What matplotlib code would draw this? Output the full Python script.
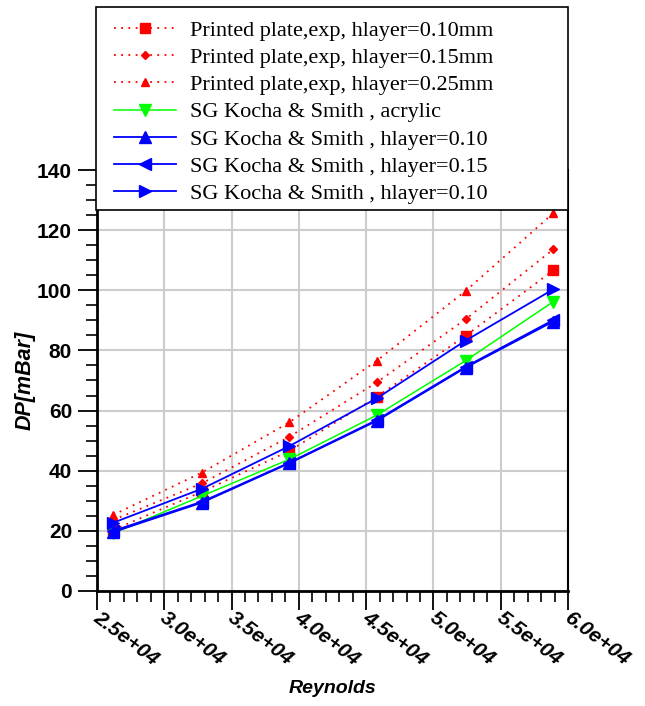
import matplotlib.pyplot as plt
import matplotlib.transforms as mtransforms
from matplotlib.patches import Rectangle
from matplotlib.ticker import MultipleLocator, FormatStrFormatter

# Reynolds numbers of the measurement / simulation points
reynolds = [26200, 32800, 39300, 45800, 52400, 58900]

# pressure drop [mBar]
exp_010 = [20.3, 33.0, 46.6, 64.6, 84.9, 106.6]
exp_015 = [23.6, 35.8, 51.3, 69.4, 90.4, 113.6]
exp_025 = [25.3, 39.4, 56.1, 76.6, 99.8, 125.6]
sg_acrylic = [19.2, 31.6, 43.8, 58.5, 76.6, 96.2]
sg_010_a = [19.6, 29.4, 42.5, 56.6, 74.3, 89.6]
sg_015 = [20.0, 29.7, 42.7, 56.9, 74.6, 90.1]
sg_010_b = [22.7, 34.0, 48.2, 64.1, 83.3, 100.3]

labels = ['Printed plate,exp, hlayer=0.10mm',
          'Printed plate,exp, hlayer=0.15mm',
          'Printed plate,exp, hlayer=0.25mm',
          'SG Kocha & Smith , acrylic',
          'SG Kocha & Smith , hlayer=0.10',
          'SG Kocha & Smith , hlayer=0.15',
          'SG Kocha & Smith , hlayer=0.10']

plt.rcParams['font.family'] = 'Liberation Sans'

fig = plt.figure(figsize=(6.45, 7.06), dpi=100)
ax = fig.add_axes([0.1504, 0.1629, 0.7302, 0.5963])

dot = (0, (1, 3))
red = '#ff0000'
blue = '#0000ff'
green = '#00ff00'

h1, = ax.plot(reynolds, exp_010, color=red, ls=dot, lw=1.3, marker='s', ms=7, label=labels[0])
h2, = ax.plot(reynolds, exp_015, color=red, ls=dot, lw=1.3, marker='D', ms=4.5, label=labels[1])
h3, = ax.plot(reynolds, exp_025, color=red, ls=dot, lw=1.3, marker='^', ms=6, label=labels[2])
h4, = ax.plot(reynolds, sg_acrylic, color=green, lw=1.1, marker='v', ms=8, label=labels[3])
h5, = ax.plot(reynolds, sg_010_a, color=blue, lw=1.3, marker='^', ms=8.5, label=labels[4])
h6, = ax.plot(reynolds, sg_015, color=blue, lw=1.3, marker='<', ms=8.5, label=labels[5])
h7, = ax.plot(reynolds, sg_010_b, color=blue, lw=1.3, marker='>', ms=8.5, label=labels[6])

ax.set_xlim(25000, 60000)
ax.set_ylim(0, 140)
ax.xaxis.set_major_locator(MultipleLocator(5000))
ax.xaxis.set_minor_locator(MultipleLocator(1000))
ax.yaxis.set_major_locator(MultipleLocator(20))
ax.yaxis.set_minor_locator(MultipleLocator(5))
ax.xaxis.set_major_formatter(FormatStrFormatter('%.1e'))

ax.grid(True, which='major', color='#cccccc', lw=1.5)
ax.set_axisbelow(True)

ax.tick_params(which='major', length=14, width=1.3, direction='out')
ax.tick_params(which='minor', length=8, width=1.2, direction='out')
ax.tick_params(axis='y', labelsize=15, pad=4)
ax.tick_params(axis='x', labelsize=15, pad=-2)

shift = mtransforms.ScaledTranslation(4 / 100, 0, fig.dpi_scale_trans)
for t in ax.get_yticklabels():
    t.set_fontweight('bold')
for t in ax.get_xticklabels():
    t.set_fontweight('bold')
    t.set_fontstyle('italic')
    t.set_rotation(-37)
    t.set_ha('left')
    t.set_va('top')
    t.set_rotation_mode('anchor')
    t.set_transform(t.get_transform() + shift)

ax.spines['top'].set_visible(False)
ax.spines['left'].set_linewidth(2)
ax.spines['bottom'].set_linewidth(2)
ax.spines['right'].set_linewidth(1.5)

ax.set_xlabel('Reynolds', fontsize=14, fontweight='bold', fontstyle='italic')
ax.xaxis.set_label_coords(0.5, -0.212)
ax.set_ylabel('DP[mBar]', fontsize=15.5, fontweight='bold', fontstyle='italic', labelpad=1)

# legend box, drawn over the top of the axes
box = Rectangle((0.1488, 0.7025), 0.7318, 0.2875, transform=fig.transFigure,
                facecolor='white', edgecolor='black', lw=1.2, zorder=4)
fig.add_artist(box)

leg = fig.legend(handles=[h1, h2, h3, h4, h5, h6, h7],
                 loc='upper left', bbox_to_anchor=(0.1767, 0.9715),
                 borderaxespad=0, borderpad=0, frameon=False,
                 prop={'family': 'Liberation Serif', 'size': 16},
                 handlelength=2.8, handletextpad=0.63, labelspacing=0.30)
leg.set_zorder(6)

fig.savefig('out.png', dpi=100)
